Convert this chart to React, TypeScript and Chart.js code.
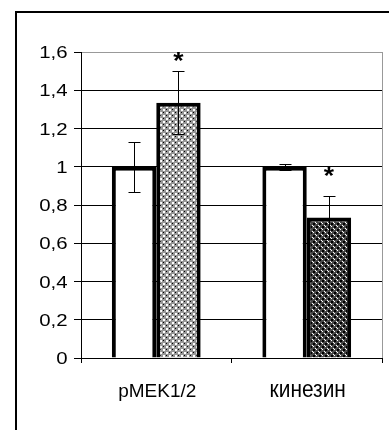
import React, { useEffect, useRef } from "react";
import { Chart, registerables } from "chart.js";

Chart.register(...registerables);

const categories = ["pMEK1/2", "кинезин"];
const controlValues = [1.0, 1.0];
const controlErrors = [0.13, 0.015];
const treatedValues = [1.335, 0.735];
const treatedErrors = [0.165, 0.113];
const treatedAsterisks = [1.575, 0.975];
const yTickValues = [0, 0.2, 0.4, 0.6, 0.8, 1, 1.2, 1.4, 1.6];
const yTickLabels = ["0", "0,2", "0,4", "0,6", "0,8", "1", "1,2", "1,4", "1,6"];

const FONT = "Arial, 'Liberation Sans', sans-serif";
// style: rendered size of the category labels (box width, ink height above baseline)
const X_LABEL_STYLE = { widths: [77, 74], inkHeight: 13.5, baseline: 396.5 };

function makePattern(dark: boolean): CanvasPattern | string {
  const c = document.createElement("canvas");
  c.width = 6;
  c.height = 6;
  const g = c.getContext("2d");
  if (!g) return dark ? "#555" : "#aaa";
  g.fillStyle = dark ? "#484848" : "#969696";
  g.fillRect(0, 0, 6, 6);
  g.fillStyle = dark ? "#000000" : "#ffffff";
  g.fillRect(1, 1, 2, 2);
  g.fillRect(4, 4, 2, 2);
  g.fillStyle = dark ? "#ffffff" : "#000000";
  g.fillRect(4, 1, 1, 1);
  g.fillRect(1, 4, 1, 1);
  if (dark) {
    g.fillRect(0, 3, 1, 1);
    g.fillRect(3, 0, 1, 1);
  }
  const p = g.createPattern(c, "repeat");
  return p || (dark ? "#555" : "#aaa");
}

const decorPlugin = {
  id: "decor",
  beforeDraw(chart: any) {
    const ctx = chart.ctx;
    ctx.save();
    ctx.fillStyle = "#fff";
    ctx.fillRect(0, 0, chart.width, chart.height);
    ctx.strokeStyle = "#000";
    ctx.lineWidth = 2;
    ctx.beginPath();
    ctx.moveTo(16, chart.height);
    ctx.lineTo(16, 12);
    ctx.lineTo(chart.width, 12);
    ctx.stroke();
    ctx.restore();
  },
  afterDatasetsDraw(chart: any) {
    const ctx = chart.ctx;
    const y = chart.scales.y;
    const area = chart.chartArea;
    ctx.save();
    ctx.strokeStyle = "#999";
    ctx.lineWidth = 1;
    ctx.beginPath();
    ctx.moveTo(Math.round(area.right) + 0.5, area.top);
    ctx.lineTo(Math.round(area.right) + 0.5, area.bottom);
    ctx.stroke();

    const errs = [controlErrors, treatedErrors];
    const vals = [controlValues, treatedValues];
    ctx.strokeStyle = "#000";
    ctx.lineWidth = 1;
    for (let d = 0; d < 2; d++) {
      const meta = chart.getDatasetMeta(d);
      meta.data.forEach((bar: any, i: number) => {
        const x = Math.round(bar.x) + 0.5;
        const top = Math.round(y.getPixelForValue(vals[d][i] + errs[d][i])) + 0.5;
        const bot = Math.round(y.getPixelForValue(vals[d][i] - errs[d][i])) + 0.5;
        ctx.beginPath();
        ctx.moveTo(x, top);
        ctx.lineTo(x, bot);
        ctx.moveTo(x - 6, top);
        ctx.lineTo(x + 6, top);
        ctx.moveTo(x - 6, bot);
        ctx.lineTo(x + 6, bot);
        ctx.stroke();
      });
    }

    const meta1 = chart.getDatasetMeta(1);
    ctx.fillStyle = "#000";
    ctx.font = `bold 24px ${FONT}`;
    ctx.textAlign = "center";
    ctx.textBaseline = "alphabetic";
    meta1.data.forEach((bar: any, i: number) => {
      const cy = y.getPixelForValue(treatedAsterisks[i]);
      const m = ctx.measureText("*");
      const off = (m.actualBoundingBoxAscent - m.actualBoundingBoxDescent) / 2;
      ctx.save();
      ctx.translate(bar.x, cy + off);
      ctx.scale(1.1, 1);
      ctx.fillText("*", 0, 0);
      ctx.restore();
    });

    ctx.font = `17px ${FONT}`;
    ctx.textAlign = "right";
    yTickValues.forEach((v, i) => {
      const py = y.getPixelForValue(v);
      ctx.save();
      ctx.translate(67.5, py + 6.2);
      ctx.scale(1.2, 1);
      ctx.fillText(yTickLabels[i], 0, 0);
      ctx.restore();
    });

    const xs = chart.scales.x;
    ctx.font = `18px ${FONT}`;
    ctx.textAlign = "center";
    categories.forEach((c, i) => {
      const px = xs.getPixelForValue(i);
      const m = ctx.measureText(c);
      const w = m.actualBoundingBoxLeft + m.actualBoundingBoxRight || m.width;
      const h = m.actualBoundingBoxAscent || 13;
      const sx = X_LABEL_STYLE.widths[i] / w;
      const sy = X_LABEL_STYLE.inkHeight / h;
      ctx.save();
      ctx.translate(px + 1, X_LABEL_STYLE.baseline);
      ctx.scale(sx, sy);
      ctx.fillText(c, 0, 0);
      ctx.restore();
    });
    ctx.restore();
  },
};

export default function App() {
  const ref = useRef<HTMLCanvasElement | null>(null);
  useEffect(() => {
    if (!ref.current) return;
    const chart = new Chart(ref.current, {
      type: "bar",
      data: {
        labels: categories,
        datasets: [
          {
            data: controlValues,
            backgroundColor: "#ffffff",
            borderColor: "#000",
            borderWidth: 4,
            borderSkipped: "start",
            categoryPercentage: 0.59,
            barPercentage: 1,
          },
          {
            data: treatedValues,
            backgroundColor: [makePattern(false), makePattern(true)] as any,
            borderColor: "#000",
            borderWidth: 4,
            borderSkipped: "start",
            categoryPercentage: 0.59,
            barPercentage: 1,
          },
        ],
      },
      options: {
        animation: false,
        responsive: false,
        layout: { padding: { left: 16, top: 52, right: 7, bottom: 20 } },
        plugins: { legend: { display: false }, tooltip: { enabled: false } },
        scales: {
          x: {
            afterFit: (s: any) => {
              s.height = 52;
            },
            ticks: { display: false },
            grid: {
              offset: true,
              drawOnChartArea: false,
              drawTicks: true,
              tickLength: 5,
              color: "#000",
              tickColor: "#000",
            },
            border: { display: true, color: "#000", width: 1 },
          },
          y: {
            min: 0,
            max: 1.6,
            afterFit: (s: any) => {
              s.width = 65;
            },
            afterBuildTicks: (s: any) => {
              s.ticks = yTickValues.map((v) => ({ value: v }));
            },
            ticks: { display: false },
            grid: {
              color: (c: any) => (c.tick && Math.abs(c.tick.value - 1.6) < 1e-6 ? "#999" : "#000"),
              tickColor: "#000",
              tickLength: 7,
              lineWidth: 1,
            },
            border: { display: true, color: "#000", width: 1 },
          },
        },
      },
      plugins: [decorPlugin],
    });
    return () => chart.destroy();
  }, []);
  return (
    <div style={{ position: "absolute", left: 0, top: 0, width: 389, height: 430 }}>
      <canvas ref={ref} width={389} height={430} style={{ display: "block" }} />
    </div>
  );
}
